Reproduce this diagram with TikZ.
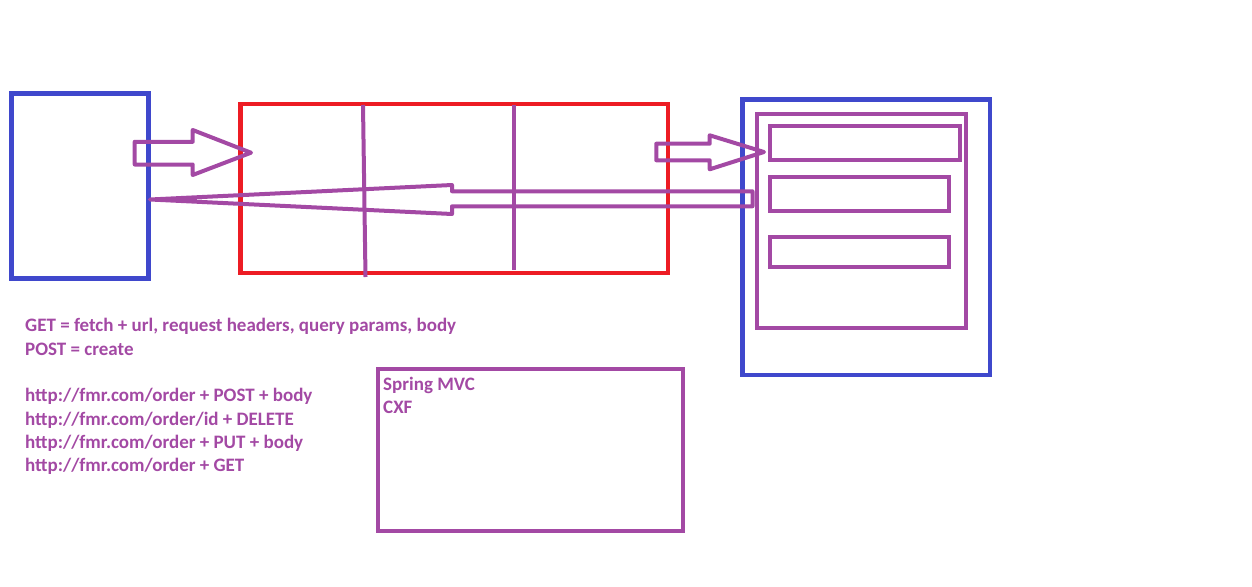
\documentclass[tikz,border=0pt]{standalone}
\usepackage{fontspec}
\setmainfont{Carlito}
\usepackage{tikz}
\usetikzlibrary{positioning}
\definecolor{PaintBlue}{RGB}{63, 72, 204}
\definecolor{PaintRed}{RGB}{237, 28, 36}
\definecolor{PaintPurple}{RGB}{163, 73, 164}

\begin{document}
\begin{tikzpicture}[x=1pt, y=-1pt,
    frame/.style={draw, line width=4.5pt, inner sep=0pt, outer sep=0pt, anchor=north west},
    slot/.style={frame, PaintPurple, line width=4pt},
    arrowline/.style={draw=PaintPurple, line width=4pt, line join=round},
    note/.style={text=PaintPurple, font=\fontsize{19}{23}\selectfont\bfseries, inner sep=0pt, anchor=base west}]
    \useasboundingbox (0,0) rectangle (1252,586);

    % Client
    \node[frame, PaintBlue, minimum width=136.6pt, minimum height=185pt] (client) at (11.7,93.3) {};

    % Server mit drei Schichten
    \node[frame, PaintRed, line width=4.3pt, minimum width=427.8pt, minimum height=169pt] (server) at (240.5,103.8) {};
    \draw[arrowline] (363,105) -- (365.5,277);
    \draw[arrowline] (513.5,105) -- (513.5,270);

    % Datenhaltung
    \node[frame, PaintBlue, minimum width=247.7pt, minimum height=275.3pt] (store) at (742.5,99.7) {};
    \node[slot, minimum width=208.3pt, minimum height=214.3pt] (panel) at (757.2,113.7) {};
    \node[slot, minimum width=190pt, minimum height=34.8pt] (slotA) at (769.5,125.5) {};
    \node[slot, minimum width=179.7pt, minimum height=34pt] (slotB) at (769.5,176.5) {};
    \node[slot, minimum width=179.7pt, minimum height=30.5pt] (slotC) at (769.5,236.5) {};

    % Pfeile
    \coordinate (reqtip) at (251,152.7);
    \draw[arrowline] (reqtip) -- ++(-58.3,-22.7) -- ++(0,11.8) -- ++(-58,0) -- ++(0,22.7)
        -- ++(58,0) -- ++(0,10.5) -- cycle;
    \coordinate (storetip) at (764,152);
    \draw[arrowline] (storetip) -- ++(-54.3,-16.7) -- ++(0,8.4) -- ++(-53.4,0) -- ++(0,16.6)
        -- ++(53.4,0) -- ++(0,9) -- cycle;
    \coordinate (resptip) at (150,199.5);
    \draw[arrowline] (resptip) -- (452,185) -- (452,191.3) -- (752.5,191.3) -- (752.5,206.3)
        -- (452,206.3) -- (452,214) -- cycle;

    % HTTP-Methoden
    \foreach \row/\txt in {0/{GET = fetch + url, request headers, query params, body},
        1/{POST = create},
        3/{http://fmr.com/order + POST + body},
        4/{http://fmr.com/order/id + DELETE},
        5/{http://fmr.com/order + PUT + body},
        6/{http://fmr.com/order + GET}}
        \node[note] (line\row) at (25,{331.7+23.33*\row}) {\txt};

    % Frameworks
    \node[slot, minimum width=305pt, minimum height=161.5pt] (impl) at (377.5,369.2) {};
    \node[note] (spring) at (383,390) {Spring MVC};
    \node[note] (cxf) at (383,413.3) {CXF};
\end{tikzpicture}
\end{document}
